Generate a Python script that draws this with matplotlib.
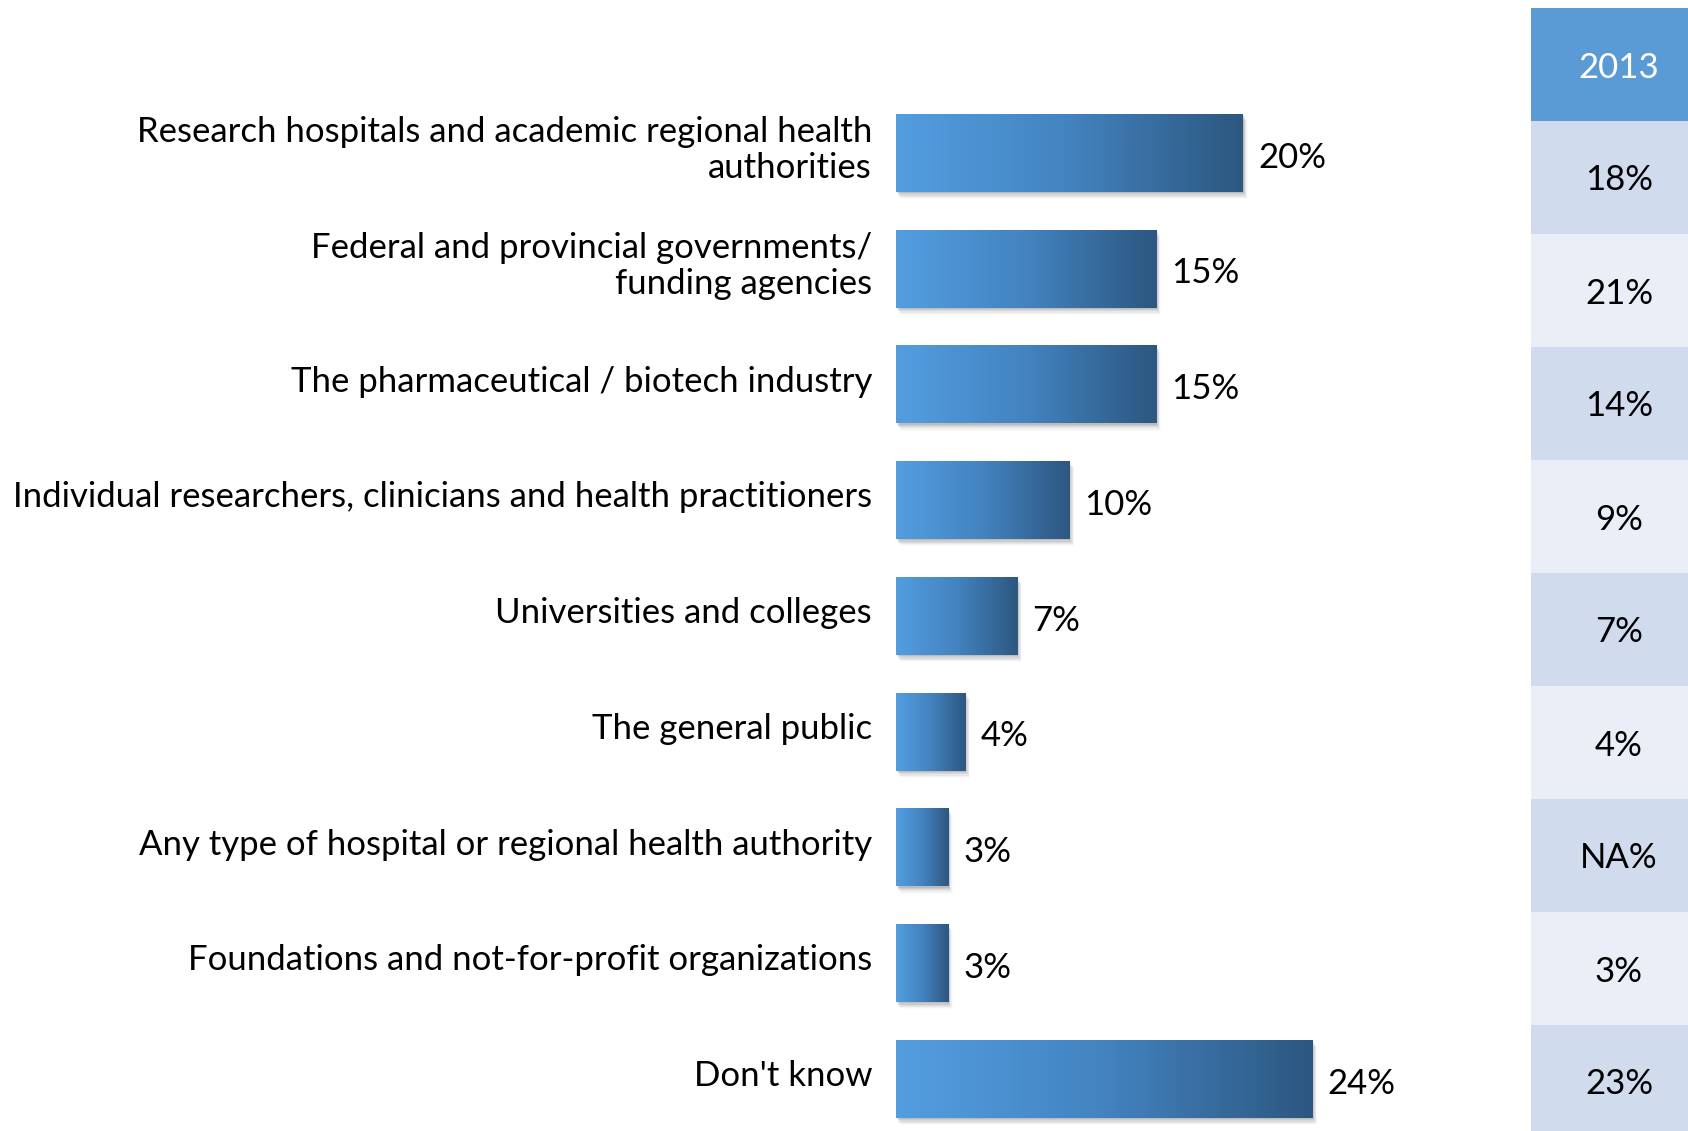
import matplotlib
matplotlib.use("Agg")
import matplotlib.pyplot as plt
import numpy as np
from matplotlib.colors import LinearSegmentedColormap
from matplotlib.patches import Rectangle

categories = [
    "Research hospitals and academic regional health\nauthorities",
    "Federal and provincial governments/\nfunding agencies",
    "The pharmaceutical / biotech industry",
    "Individual researchers, clinicians and health practitioners",
    "Universities and colleges",
    "The general public",
    "Any type of hospital or regional health authority",
    "Foundations and not-for-profit organizations",
    "Don't know",
]
values = [20, 15, 15, 10, 7, 4, 3, 3, 24]
value_labels = ["20%", "15%", "15%", "10%", "7%", "4%", "3%", "3%", "24%"]
table_header = "2013"
table_values = ["18%", "21%", "14%", "9%", "7%", "4%", "NA%", "3%", "23%"]

plt.rcParams['font.family'] = ['Lato', 'DejaVu Sans']

W, H = 1688, 1131
fig = plt.figure(figsize=(W / 100, H / 100), dpi=100)

# bar axes
x0_px, x1_px = 896, 1500
ax = fig.add_axes([x0_px / W, 0, (x1_px - x0_px) / W, 1])
step = 115.75
first_c = 153
y_top = -first_c / step
y_bot = (H - first_c) / step
px_per_unit = 17.35
xmax = (x1_px - x0_px) / px_per_unit

cmap = LinearSegmentedColormap.from_list("g", ["#539EE0", "#4383C0", "#2C5780"])
grad = np.linspace(0, 1, 256).reshape(1, -1)
bh = 78 / step
fs = 25
for i, v in enumerate(values):
    # shadow
    for k, a in zip(range(1, 7), [0.10, 0.09, 0.08, 0.06, 0.04, 0.02]):
        dx = (k * 1.0) / px_per_unit
        dy = (k * 1.2) / step
        ax.add_patch(Rectangle((dx * 0.8, i - bh / 2 + dy), v, bh,
                               facecolor="#404040", alpha=a, edgecolor="none", zorder=1))
    ax.barh(i, v, height=bh, color="none", zorder=2)
    ax.imshow(grad, extent=[0, v, i + bh / 2, i - bh / 2], cmap=cmap,
              aspect="auto", zorder=3, interpolation="bicubic")
    ax.text(v + 15 / px_per_unit, i + 0.04, value_labels[i], ha="left", va="center",
            fontsize=fs, color="black")
    ax.text(-24 / px_per_unit, i - 0.025, categories[i], ha="right", va="center",
            multialignment="right", fontsize=fs, color="black", linespacing=1.13)

ax.set_xlim(0, xmax)
ax.set_ylim(y_bot, y_top)
ax.axis("off")

# table axes
tx0 = 1531
tax = fig.add_axes([tx0 / W, 0, (W - tx0) / W, 1])
tax.set_xlim(0, W - tx0)
tax.set_ylim(H, 0)
tax.axis("off")
hdr_top, hdr_bot = 8, 121
row_h = 113
tw = 200
tax.add_patch(Rectangle((0, hdr_top), tw, hdr_bot - hdr_top, facecolor="#5B9BD5", edgecolor="none"))
tax.text(88, (hdr_top + hdr_bot) / 2 + 4, table_header, ha="center", va="center",
         fontsize=fs, color="white")
for i, t in enumerate(table_values):
    top = hdr_bot + i * row_h
    col = "#D0DBEE" if i % 2 == 0 else "#E9EEF7"
    tax.add_patch(Rectangle((0, top), tw, row_h, facecolor=col, edgecolor="none"))
    tax.text(88, top + row_h / 2 + 3, t, ha="center", va="center", fontsize=fs, color="black")

fig.savefig("out.png", dpi=100)
